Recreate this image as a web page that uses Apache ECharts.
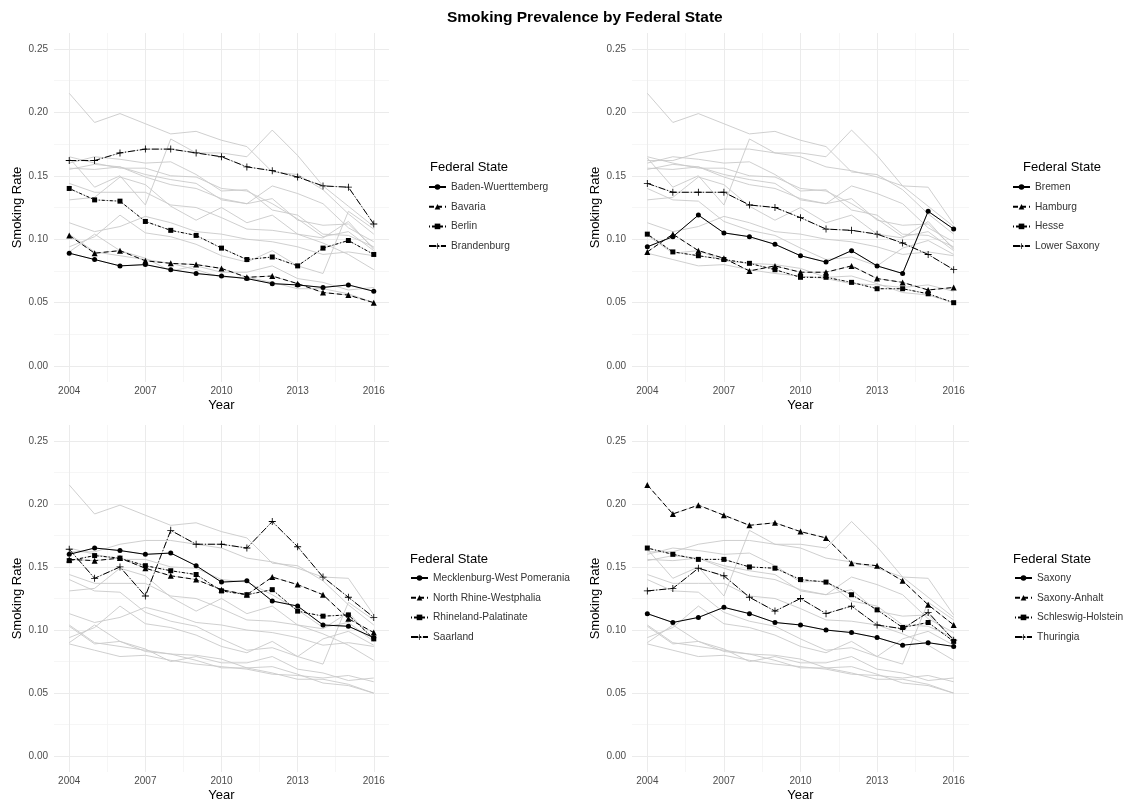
<!DOCTYPE html>
<html>
<head>
<meta charset="utf-8">
<script src="https://cdn.jsdelivr.net/npm/echarts@6/dist/echarts.min.js"></script>
<style>
html,body{margin:0;padding:0;background:#fff;}
#chart{width:1125px;height:803px;}
</style>
</head>
<body>
<div id="chart"></div>
<script>
// ---- data ----
const years = [2004,2005,2006,2007,2008,2009,2010,2011,2012,2013,2014,2015,2016];
const xTickLabels = [2004, 2007, 2010, 2013, 2016];
const yTickLabels = [0, 0.05, 0.10, 0.15, 0.20, 0.25];

const badenWuerttemberg = [0.089,0.084,0.079,0.080,0.076,0.073,0.071,0.069,0.065,0.064,0.062,0.064,0.059];
const bavaria           = [0.103,0.089,0.091,0.083,0.081,0.080,0.077,0.070,0.071,0.065,0.058,0.056,0.050];
const berlin            = [0.140,0.131,0.130,0.114,0.107,0.103,0.093,0.084,0.086,0.079,0.093,0.099,0.088];
const brandenburg       = [0.162,0.162,0.168,0.171,0.171,0.168,0.165,0.157,0.154,0.149,0.142,0.141,0.112];
const bremen            = [0.094,0.102,0.119,0.105,0.102,0.096,0.087,0.082,0.091,0.079,0.073,0.122,0.108];
const hamburg           = [0.090,0.104,0.091,0.085,0.075,0.079,0.074,0.074,0.079,0.069,0.066,0.060,0.062];
const hesse             = [0.104,0.090,0.087,0.084,0.081,0.076,0.070,0.070,0.066,0.061,0.061,0.057,0.050];
const lowerSaxony       = [0.144,0.137,0.137,0.137,0.127,0.125,0.117,0.108,0.107,0.104,0.097,0.088,0.076];
const mecklenburgWP     = [0.160,0.165,0.163,0.160,0.161,0.151,0.138,0.139,0.123,0.119,0.104,0.103,0.094];
const northRhineWest    = [0.156,0.155,0.157,0.149,0.143,0.140,0.132,0.128,0.142,0.136,0.128,0.109,0.098];
const rhinelandPal      = [0.155,0.159,0.157,0.151,0.147,0.144,0.131,0.128,0.132,0.115,0.111,0.112,0.093];
const saarland          = [0.164,0.141,0.150,0.127,0.179,0.168,0.168,0.165,0.186,0.166,0.142,0.126,0.110];
const saxony            = [0.113,0.106,0.110,0.118,0.113,0.106,0.104,0.100,0.098,0.094,0.088,0.090,0.087];
const saxonyAnhalt      = [0.215,0.192,0.199,0.191,0.183,0.185,0.178,0.173,0.153,0.151,0.139,0.120,0.104];
const schleswigHolstein = [0.165,0.160,0.156,0.156,0.150,0.149,0.140,0.138,0.128,0.116,0.102,0.106,0.091];
const thuringia         = [0.131,0.133,0.149,0.143,0.126,0.115,0.125,0.113,0.119,0.104,0.101,0.114,0.092];

const stateNames = ['Baden-Wuerttemberg','Bavaria','Berlin','Brandenburg','Bremen','Hamburg','Hesse','Lower Saxony',
  'Mecklenburg-West Pomerania','North Rhine-Westphalia','Rhineland-Palatinate','Saarland',
  'Saxony','Saxony-Anhalt','Schleswig-Holstein','Thuringia'];
const stateValues = [badenWuerttemberg,bavaria,berlin,brandenburg,bremen,hamburg,hesse,lowerSaxony,
  mecklenburgWP,northRhineWest,rhinelandPal,saarland,saxony,saxonyAnhalt,schleswigHolstein,thuringia];

// ---- layout ----
const panelGrids = [
  {left:54,  top:33,  width:335, height:349},
  {left:632, top:33,  width:337, height:349},
  {left:54,  top:425, width:335, height:349},
  {left:632, top:425, width:337, height:349}
];
const legendPos = [
  {titleLeft:430, titleTop:161, left:428, top:181},
  {titleLeft:1023, titleTop:161, left:1012, top:181},
  {titleLeft:410, titleTop:553, left:410, top:572},
  {titleLeft:1013, titleTop:553, left:1014, top:572}
];
const lineTypes = ['solid',[5,3],[1,2,3,2],[7,2,1,2]];
const plusPath = 'path://M4.4,0L5.6,0L5.6,4.4L10,4.4L10,5.6L5.6,5.6L5.6,10L4.4,10L4.4,5.6L0,5.6L0,4.4L4.4,4.4Z';
const symbols = ['circle','triangle','rect', plusPath];
const symbolSizes = [5,6,5,7];

const GRID_MAJOR = '#ebebeb';
const GRID_MINOR = '#f4f4f4';
const FONT = 'Liberation Sans, Arial, sans-serif';

const grid = [], xAxis = [], yAxis = [], series = [], legend = [];
const title = [{
  text:'Smoking Prevalence by Federal State', left:447, top:10, padding:0,
  textStyle:{fontFamily:FONT, fontSize:15.5, fontWeight:'bold', color:'#000'}
}];

panelGrids.forEach((g,p) => {
  grid.push(Object.assign({}, g));
  xAxis.push({
    type:'value', gridIndex:p, min:2003.4, max:2016.6, position:'bottom',
    name:'Year', nameLocation:'middle', nameGap:17,
    nameTextStyle:{fontFamily:FONT, fontSize:13, color:'#000'},
    axisLine:{show:false},
    axisTick:{show:false, customValues:xTickLabels},
    axisLabel:{customValues:xTickLabels, formatter:v=>String(v), fontFamily:FONT, fontSize:10, color:'#4d4d4d', margin:4},
    splitLine:{show:true, lineStyle:{color:GRID_MAJOR, width:1}},
    z:1
  });
  xAxis.push({
    type:'value', gridIndex:p, min:2003.4, max:2016.6, position:'bottom',
    axisLine:{show:false},
    axisTick:{show:false, customValues:[2005.5,2008.5,2011.5,2014.5]},
    axisLabel:{show:false, customValues:[2005.5]},
    splitLine:{show:true, lineStyle:{color:GRID_MINOR, width:0.8}},
    z:0
  });
  yAxis.push({
    type:'value', gridIndex:p, min:-0.0125, max:0.2625, position:'left',
    name:'Smoking Rate', nameLocation:'middle', nameGap:30,
    nameTextStyle:{fontFamily:FONT, fontSize:13, color:'#000'},
    axisLine:{show:false},
    axisTick:{show:false, customValues:yTickLabels},
    axisLabel:{customValues:yTickLabels, formatter:v=>v.toFixed(2), fontFamily:FONT, fontSize:10, color:'#4d4d4d', margin:6},
    splitLine:{show:true, lineStyle:{color:GRID_MAJOR, width:1}},
    z:1
  });
  yAxis.push({
    type:'value', gridIndex:p, min:-0.0125, max:0.2625, position:'left',
    axisLine:{show:false},
    axisTick:{show:false, customValues:[0.025,0.075,0.125,0.175,0.225]},
    axisLabel:{show:false, customValues:[0.025]},
    splitLine:{show:true, lineStyle:{color:GRID_MINOR, width:0.8}},
    z:0
  });

  stateNames.forEach((nm,i) => {
    series.push({
      type:'line', name:'bg '+p+' '+nm, xAxisIndex:2*p, yAxisIndex:2*p,
      data: years.map((y,k)=>[y, stateValues[i][k]]),
      symbol:'none', silent:true, animation:false, z:2,
      lineStyle:{color:'#cacaca', width:0.9}
    });
  });

  const hl = [];
  for (let j=0;j<4;j++){
    const i = p*4 + j;
    hl.push(stateNames[i]);
    series.push({
      type:'line', name:stateNames[i], xAxisIndex:2*p, yAxisIndex:2*p,
      data: years.map((y,k)=>[y, stateValues[i][k]]),
      symbol:symbols[j], symbolSize:symbolSizes[j], showSymbol:true,
      animation:false, z:3,
      itemStyle:{color:'#000'},
      lineStyle:{color:'#000', width:1, type:lineTypes[j]}
    });
  }
  const lp = legendPos[p];
  title.push({
    text:'Federal State', left:lp.titleLeft, top:lp.titleTop, padding:0,
    textStyle:{fontFamily:FONT, fontSize:13, fontWeight:'normal', color:'#000'}
  });
  legend.push({
    data:hl, orient:'vertical', left:lp.left, top:lp.top, padding:0,
    itemWidth:17, itemHeight:7, itemGap:7.7, selectedMode:false,
    textStyle:{fontFamily:FONT, fontSize:10.2, lineHeight:12, color:'#333'}
  });
});

const chart = echarts.init(document.getElementById('chart'), null, {renderer:'canvas'});
chart.setOption({
  backgroundColor:'#fff',
  animation:false,
  title, grid, xAxis, yAxis, series, legend
});
</script>
</body>
</html>
